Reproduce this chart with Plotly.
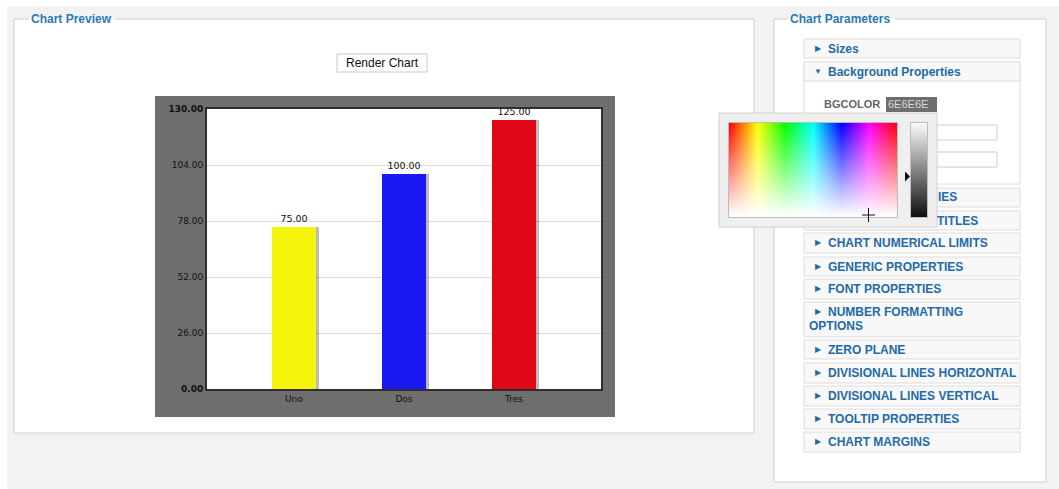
import colorsys

import numpy as np
import plotly.graph_objects as go

# chart data
categories = ["Uno", "Dos", "Tres"]
values = [75, 100, 125]
bar_colors = ["#f5f50c", "#1a19f3", "#e00817"]
y_ticks = [0, 26, 52, 78, 104, 130]
y_tick_labels = ["<b>0.00</b>", "26.00", "52.00", "78.00", "104.00", "<b>130.00</b>"]
value_labels = ["75.00", "100.00", "125.00"]

# side panel entries (label, top, bottom)
panel_rows = [
    ("CHART NUMERICAL LIMITS", 233, 253),
    ("GENERIC PROPERTIES", 257, 276),
    ("FONT PROPERTIES", 279, 299),
    ("NUMBER FORMATTING", 302, 337),
    ("ZERO PLANE", 340, 359),
    ("DIVISIONAL LINES HORIZONTAL", 363, 383),
    ("DIVISIONAL LINES VERTICAL", 386, 406),
    ("TOOLTIP PROPERTIES", 409, 429),
    ("CHART MARGINS", 432, 452),
]

W, H = 1059, 489
UI_FONT = "Liberation Sans, Arial, sans-serif"
CHART_FONT = "DejaVu Sans, Verdana, sans-serif"
BLUE = "#1f6aa8"


def px(x):
    return x / W


def py(y):
    return 1 - y / H


shapes = []
annotations = []


def rect(x0, y0, x1, y1, fill, line=None, width=1, layer="below"):
    shapes.append(dict(
        type="rect", xref="paper", yref="paper", layer=layer,
        x0=px(x0), x1=px(x1), y0=py(y1), y1=py(y0),
        fillcolor=fill, line=dict(color=line or fill, width=width if line else 0),
    ))


def seg(x0, y0, x1, y1, color, width=1, layer="below"):
    shapes.append(dict(
        type="line", xref="paper", yref="paper", layer=layer,
        x0=px(x0), x1=px(x1), y0=py(y0), y1=py(y1),
        line=dict(color=color, width=width),
    ))


def label(x, y, text, size=12, color=BLUE, anchor="left", family=UI_FONT):
    # annotations pad their text by a couple of pixels, pull left ones back
    if anchor == "left":
        x -= 2
    annotations.append(dict(
        x=px(x), y=py(y), xref="paper", yref="paper", text=text,
        showarrow=False, xanchor=anchor, yanchor="middle",
        font=dict(family=family, size=size, color=color),
    ))


# page frame
rect(0, 0, W, 6, "white")
rect(0, 0, 7, H, "white")

# chart preview fieldset
rect(14, 19, 754, 433, "white", "#cfcfcf")
rect(29, 18, 115, 20, "white")
label(31, 19, "<b>Chart Preview</b>", 12, "#2b78b8")
rect(337, 54, 427, 72, "white", "#c8c8c8")
label(382, 63, "Render Chart", 12, "#111111", "center")

# chart canvas
rect(155, 96, 615, 417, "#6e6e6e")
rect(207, 109, 601, 389, "white")

# chart parameters fieldset
rect(774, 19, 1046, 482, "white", "#cfcfcf")
rect(788, 18, 895, 20, "white")
label(790, 19, "<b>Chart Parameters</b>", 12, "#2b78b8")

ROW_FILL, ROW_LINE = "#f8f8f8", "#dcdcdc"
rect(804, 39, 1020, 58, ROW_FILL, ROW_LINE)
label(815, 48.5, "▶", 8, BLUE)
label(828, 48.5, "<b>Sizes</b>", 12)

rect(804, 62, 1020, 184, "white", ROW_LINE)
rect(804, 62, 1020, 81, ROW_FILL, ROW_LINE)
label(814, 71.5, "▼", 8, BLUE)
label(828, 71.5, "<b>Background Properties</b>", 12)
label(824, 104.5, "<b>BGCOLOR</b>", 11, "#666666")
rect(886, 97, 937, 112, "#6e6e6e")
label(888, 104.5, "6E6E6E", 11, "#d8d8d8")
rect(886, 125, 997, 140, "white", "#cccccc")
rect(886, 152, 997, 167, "white", "#cccccc")

rect(804, 188, 1020, 207, ROW_FILL, ROW_LINE)
rect(804, 211, 1020, 230, ROW_FILL, ROW_LINE)
for name, top, bottom in panel_rows:
    rect(804, top, 1020, bottom, ROW_FILL, ROW_LINE)
    mid = top + 9.5
    label(815, mid, "▶", 8, BLUE)
    label(828, mid, "<b>%s</b>" % name, 12)
label(809, 326, "<b>OPTIONS</b>", 12)

# colour picker popup (covers part of the panel)
rect(719, 113, 937, 227, "#efefef", "#d2d2d2")
rect(728, 122, 898, 218, "#bdbdbd")
rect(910, 122, 928, 218, "#bdbdbd")
label(938, 197.5, "<b>IES</b>", 12)
label(937, 220.5, "<b>TITLES</b>", 12)
seg(862, 215, 875, 215, "#111111", 1, "above")
seg(868.5, 208, 868.5, 222, "#111111", 1, "above")
shapes.append(dict(
    type="path", xref="paper", yref="paper", layer="above",
    path="M %f %f L %f %f L %f %f Z" % (px(905), py(171.5), px(910), py(176.5), px(905), py(181.5)),
    fillcolor="#111111", line=dict(width=0),
))

# hue / saturation field and grey strip of the picker
gw, gh = 168, 94
hue = np.zeros((gh, gw, 3))
for c in range(gw):
    r, g, b = colorsys.hsv_to_rgb(c / gw, 1, 1)
    for rr in range(gh):
        s = 1 - rr / (gh - 1)
        hue[rr, c] = [255 * (1 - s + s * r), 255 * (1 - s + s * g), 255 * (1 - s + s * b)]
grey = np.zeros((gh, 16, 3))
for rr in range(gh):
    grey[rr, :, :] = 250 - 235 * rr / (gh - 1)

fig = go.Figure()

# bar shadows, then bars
fig.add_trace(go.Bar(
    x=categories, y=values, width=0.4, offset=-0.2 + 3 / 110,
    marker=dict(color="rgba(60,60,60,0.35)", line=dict(width=0)),
    hoverinfo="skip", showlegend=False,
))
fig.add_trace(go.Bar(
    x=categories, y=values, width=0.4, offset=-0.2,
    marker=dict(color=bar_colors, line=dict(width=0)),
    text=value_labels, textposition="outside", cliponaxis=False,
    textfont=dict(family=CHART_FONT, size=9.5, color="#111111"),
    showlegend=False,
))

fig.add_trace(go.Image(z=hue, xaxis="x2", yaxis="y2", hoverinfo="skip"))
fig.add_trace(go.Image(z=grey, xaxis="x3", yaxis="y3", hoverinfo="skip"))

hidden = dict(visible=False, automargin=False, fixedrange=True)
fig.update_layout(
    width=W, height=H, autosize=False,
    margin=dict(l=0, r=0, t=0, b=0, pad=0, autoexpand=False),
    showlegend=False,
    paper_bgcolor="#f2f2f2", plot_bgcolor="white",
    barmode="overlay", bargap=0,
    font=dict(family=CHART_FONT, size=9, color="#111111"),
    xaxis=dict(
        domain=[px(207), px(601)], range=[-0.79, 2.79], automargin=False,
        showgrid=False, zeroline=False, ticks="",
        showline=True, linecolor="#2e2e2e", linewidth=2, mirror=True,
        tickfont=dict(family=CHART_FONT, size=9, color="#111111"),
        fixedrange=True,
    ),
    yaxis=dict(
        domain=[py(389), py(109)], range=[0, 130], automargin=False,
        tickvals=y_ticks, ticktext=y_tick_labels,
        showgrid=True, gridcolor="#dcdcdc", gridwidth=1, zeroline=False,
        showline=True, linecolor="#2e2e2e", linewidth=2, mirror=True, ticks="",
        tickfont=dict(family=CHART_FONT, size=9, color="#111111"),
        fixedrange=True,
    ),
    xaxis2=dict(domain=[px(729), px(897)], range=[-0.5, gw - 0.5], anchor="y2", **hidden),
    yaxis2=dict(domain=[py(217), py(123)], range=[gh - 0.5, -0.5], anchor="x2", **hidden),
    xaxis3=dict(domain=[px(911), px(927)], range=[-0.5, 15.5], anchor="y3", **hidden),
    yaxis3=dict(domain=[py(217), py(123)], range=[gh - 0.5, -0.5], anchor="x3", **hidden),
    shapes=shapes,
    annotations=annotations,
)

fig.write_html(
    "out.html",
    config={"displayModeBar": False, "responsive": False},
    post_script="document.documentElement.style.margin='0';document.body.style.margin='0';"
                "document.body.style.overflow='hidden';",
)
